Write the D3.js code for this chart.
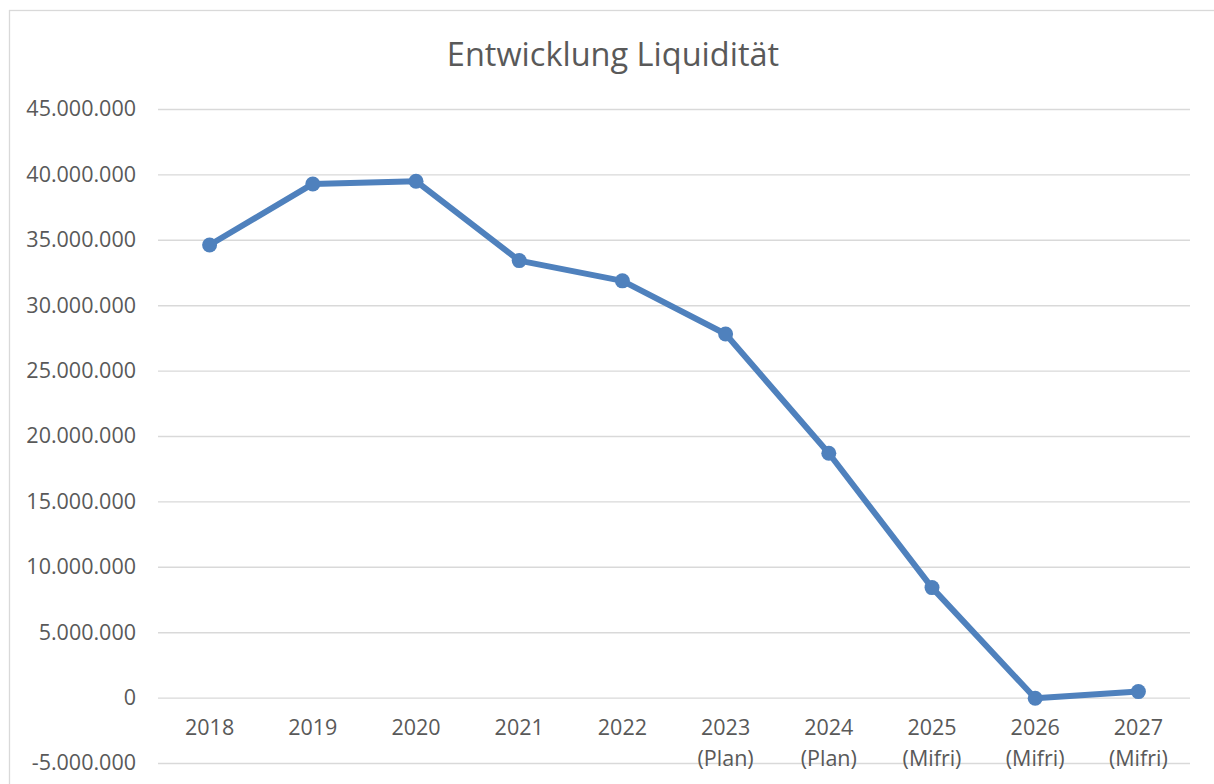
<!DOCTYPE html>
<html>
<head>
<meta charset="utf-8">
<script src="https://cdn.jsdelivr.net/npm/d3@7"></script>
<style>
  html, body { margin: 0; padding: 0; background: #fff; }
  svg { display: block; }
</style>
</head>
<body>
<div id="chart"></div>
<script>
// --- data
var years = ["2018", "2019", "2020", "2021", "2022", "2023", "2024", "2025", "2026", "2027"];
var subLabels = ["", "", "", "", "", "(Plan)", "(Plan)", "(Mifri)", "(Mifri)", "(Mifri)"];
var liquidity = [34600000, 39270000, 39480000, 33410000, 31860000, 27800000, 18680000, 8410000, -50000, 460000];
var yTicks = [-5000000, 0, 5000000, 10000000, 15000000, 20000000, 25000000, 30000000, 35000000, 40000000, 45000000];
var title = "Entwicklung Liquidität";

var W = 1214, H = 784;
var M = {top: 109, right: 24, bottom: 21, left: 158};

var de = d3.formatLocale({decimal: ",", thousands: ".", grouping: [3], currency: ["", " €"], minus: "-"});
var fmt = de.format(",.0f");

var svg = d3.select("#chart").append("svg")
    .attr("width", W)
    .attr("height", H);

// outer chart frame
svg.append("rect")
    .attr("x", 9.5).attr("y", 10.5)
    .attr("width", 1230).attr("height", 800)
    .attr("fill", "#fff")
    .attr("stroke", "#d9d9d9")
    .attr("stroke-width", 1.3);

var x = d3.scaleBand()
    .domain(years)
    .range([M.left, W - M.right]);

var y = d3.scaleLinear()
    .domain([-5000000, 45000000])
    .range([H - M.bottom, M.top]);

// gridlines + y labels via axis
var yAxis = d3.axisLeft(y)
    .tickValues(yTicks)
    .tickFormat(fmt)
    .tickSize(-(W - M.right - M.left))
    .tickPadding(22);

var gy = svg.append("g")
    .attr("transform", "translate(" + M.left + ",0)")
    .call(yAxis);
gy.select(".domain").remove();
gy.selectAll(".tick line")
    .attr("stroke", "#d9d9d9")
    .attr("stroke-width", 1.4);
gy.selectAll(".tick text")
    .attr("fill", "#595959")
    .attr("font-family", "'Open Sans', sans-serif")
    .attr("font-size", "21.5px");

// category labels sit under the zero line
svg.append("g").selectAll("text")
    .data(years)
    .enter()
    .append("text")
    .attr("x", function(d) { return x(d) + x.bandwidth() / 2; })
    .attr("y", y(0) + 37)
    .attr("text-anchor", "middle")
    .attr("fill", "#595959")
    .attr("font-family", "'Open Sans', sans-serif")
    .attr("font-size", "21.5px")
    .text(function(d) { return d; });

svg.append("g").selectAll("text")
    .data(years)
    .enter()
    .append("text")
    .attr("x", function(d) { return x(d) + x.bandwidth() / 2; })
    .attr("y", y(0) + 68)
    .attr("text-anchor", "middle")
    .attr("fill", "#595959")
    .attr("font-family", "'Open Sans', sans-serif")
    .attr("font-size", "21.5px")
    .text(function(d, i) { return subLabels[i]; });

// --- line + markers
var line = d3.line()
    .x(function(d, i) { return x(years[i]) + x.bandwidth() / 2; })
    .y(function(d) { return y(d); });

svg.append("path")
    .attr("d", line(liquidity))
    .attr("fill", "none")
    .attr("stroke", "#4f81bd")
    .attr("stroke-width", 6)
    .attr("stroke-linejoin", "round");

svg.append("g").selectAll("circle")
    .data(liquidity)
    .enter()
    .append("circle")
    .attr("cx", function(d, i) { return x(years[i]) + x.bandwidth() / 2; })
    .attr("cy", function(d) { return y(d); })
    .attr("r", 7.5)
    .attr("fill", "#4f81bd");

// title
svg.append("text")
    .attr("x", 613)
    .attr("y", 66)
    .attr("text-anchor", "middle")
    .attr("fill", "#595959")
    .attr("font-family", "'Open Sans', sans-serif")
    .attr("font-size", "32.5px")
    .text(title);
</script>
</body>
</html>
